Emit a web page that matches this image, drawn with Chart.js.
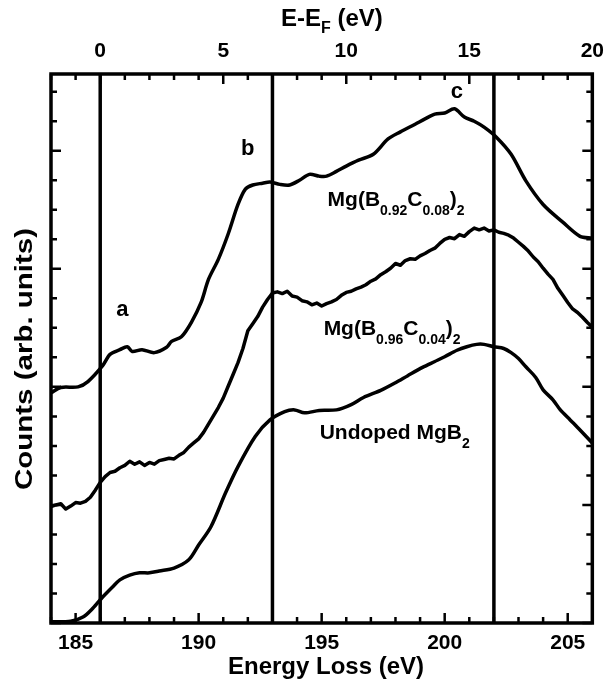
<!DOCTYPE html>
<html lang="en">
<head>
<meta charset="UTF-8">
<title>MgB2 EELS</title>
<style>
  html, body { margin: 0; padding: 0; background: #fff; }
  #wrap { width: 614px; height: 688px; }
</style>
</head>
<body>
<div id="wrap"><canvas id="eels"></canvas></div>

<script src="https://cdn.jsdelivr.net/npm/chart.js"></script>

<script>
// Mg(B0.92C0.08)2 spectrum
const energyC08 = [184.0,184.4,185.1,185.5,186.1,186.4,186.8,187.1,187.3,187.7,188.2,188.7,188.9,189.3,189.7,
  190.1,190.4,190.8,191.2,191.6,191.9,192.2,192.6,192.9,193.3,193.7,194.1,194.5,194.9,195.2,195.6,196.0,196.5,
  197.1,197.7,198.2,198.8,199.2,199.6,200.0,200.4,200.8,201.2,201.6,202.1,202.7,203.3,204.0,204.8,205.5,206.0];
const countsC08 = [3.90,3.99,4.00,4.09,4.36,4.55,4.63,4.68,4.60,4.63,4.58,4.67,4.77,4.85,5.09,
  5.43,5.82,6.16,6.59,7.09,7.35,7.42,7.45,7.47,7.43,7.42,7.50,7.60,7.57,7.57,7.65,7.74,7.84,
  7.94,8.20,8.32,8.45,8.54,8.62,8.64,8.71,8.57,8.50,8.40,8.23,7.94,7.49,7.09,6.79,6.55,6.52];

// Mg(B0.96C0.04)2 spectrum (noisy one)
const energyC04 = [184.0,184.2,184.4,184.6,184.8,185.0,185.2,185.4,185.6,185.8,186.0,186.2,186.4,186.6,186.8,
  187.0,187.2,187.4,187.6,187.8,188.0,188.2,188.4,188.6,188.8,189.0,189.2,189.4,189.6,189.8,190.0,190.2,190.4,
  190.6,190.8,191.0,191.2,191.4,191.6,191.8,192.0,192.2,192.4,192.6,192.8,193.0,193.2,193.4,193.6,193.8,194.0,
  194.2,194.4,194.6,194.8,195.0,195.2,195.4,195.6,195.8,196.0,196.2,196.4,196.6,196.8,197.0,197.2,197.4,197.6,
  197.8,198.0,198.2,198.4,198.6,198.8,199.0,199.2,199.4,199.6,199.8,200.0,200.2,200.4,200.6,200.8,201.0,201.2,
  201.4,201.6,201.8,202.0,202.2,202.4,202.6,202.8,203.0,203.2,203.4,203.6,203.8,204.0,204.2,204.4,204.6,204.8,
  205.0,205.2,205.4,205.6,205.8,206.0];
const countsC04 = [1.97,2.00,2.02,1.93,1.98,2.04,2.03,2.06,2.13,2.25,2.38,2.48,2.55,2.57,2.63,
  2.67,2.74,2.69,2.73,2.67,2.72,2.69,2.75,2.77,2.79,2.78,2.84,2.89,2.98,3.05,3.12,3.23,3.37,
  3.51,3.65,3.81,4.01,4.21,4.41,4.65,4.95,5.07,5.19,5.35,5.48,5.59,5.61,5.58,5.62,5.54,5.52,
  5.46,5.44,5.39,5.42,5.37,5.41,5.44,5.48,5.55,5.60,5.62,5.66,5.69,5.73,5.79,5.83,5.90,5.95,
  6.01,6.09,6.06,6.14,6.17,6.16,6.22,6.26,6.31,6.35,6.43,6.50,6.53,6.51,6.58,6.55,6.63,6.69,
  6.66,6.69,6.64,6.66,6.62,6.60,6.57,6.52,6.45,6.38,6.30,6.20,6.12,6.01,5.91,5.82,5.67,5.55,
  5.43,5.32,5.26,5.18,5.09,5.01];

// undoped MgB2 spectrum
const energyUndoped = [184.0,184.8,185.3,185.7,186.1,186.5,186.8,187.2,187.6,188.0,188.4,189.0,189.6,190.0,190.5,
  191.1,191.6,192.3,192.9,193.5,193.9,194.3,194.9,195.6,196.2,196.7,197.4,198.0,198.5,199.1,199.6,200.0,200.5,
  200.9,201.3,201.6,202.0,202.4,202.7,203.0,203.3,203.7,204.0,204.4,204.7,205.1,205.5,206.0];
const countsUndoped = [0.02,0.03,0.10,0.25,0.44,0.61,0.73,0.81,0.85,0.85,0.88,0.93,1.07,1.32,1.63,
  2.21,2.65,3.16,3.44,3.58,3.61,3.56,3.60,3.61,3.70,3.82,3.94,4.07,4.19,4.33,4.43,4.51,4.62,
  4.68,4.72,4.72,4.68,4.65,4.58,4.48,4.34,4.16,3.95,3.78,3.61,3.44,3.27,3.05];

const edgeLines = [186, 193, 202];     // vertical markers (eV)
const fermiEnergy = 186;               // E_F on the loss scale
const lossTicks = [185, 190, 195, 200, 205];
const fermiTicks = [0, 5, 10, 15, 20];
const countsMax = 9.3;

const FONT = '"Liberation Sans", Arial, Helvetica, sans-serif';

const toPts = (xs, ys) => xs.map((x, i) => ({ x: x, y: ys[i] }));

const spectrum = (xs, ys, tension) => ({
  data: toPts(xs, ys),
  borderColor: '#000',
  borderWidth: 3.5,
  pointRadius: 0,
  tension: tension,
  borderJoinStyle: 'round',
  borderCapStyle: 'round',
  fill: false
});

const datasets = [
  spectrum(energyC08, countsC08, 0.3),
  spectrum(energyC04, countsC04, 0),
  spectrum(energyUndoped, countsUndoped, 0.3)
];
edgeLines.forEach(e => {
  datasets.push({
    data: [{ x: e, y: 0 }, { x: e, y: countsMax }],
    borderColor: '#000', borderWidth: 3.5, pointRadius: 0, fill: false
  });
});

// rich text with subscripts
function rich(ctx, parts, x, y, size, subSize, drop) {
  parts.forEach(p => {
    const sub = p[1] === 1;
    ctx.font = 'bold ' + (sub ? subSize : size) + 'px ' + FONT;
    ctx.fillText(p[0], x, y + (sub ? drop : 0));
    x += ctx.measureText(p[0]).width;
  });
}

const framePlugin = {
  id: 'frame',
  afterDraw(chart) {
    const ctx = chart.ctx;
    const a = chart.chartArea;
    const xs = chart.scales.x, ys = chart.scales.y;
    ctx.save();
    ctx.strokeStyle = '#000';
    ctx.fillStyle = '#000';
    ctx.lineWidth = 3.5;
    ctx.strokeRect(a.left, a.top, a.right - a.left, a.bottom - a.top);

    // inward ticks
    ctx.lineWidth = 2.5;
    ctx.beginPath();
    for (let e = 184; e <= 206; e++) {
      const px = xs.getPixelForValue(e);
      const lb = (e % 5 === 0) ? 10 : 6;
      const lt = ((e - fermiEnergy) % 5 === 0) ? 10 : 6;
      ctx.moveTo(px, a.bottom); ctx.lineTo(px, a.bottom - lb);
      ctx.moveTo(px, a.top); ctx.lineTo(px, a.top + lt);
    }
    for (let v = 0; v <= 9; v += 0.5) {
      const py = ys.getPixelForValue(v);
      const l = (v % 2 === 0) ? 10 : 6;
      ctx.moveTo(a.left, py); ctx.lineTo(a.left + l, py);
      ctx.moveTo(a.right, py); ctx.lineTo(a.right - l, py);
    }
    ctx.stroke();

    // axis titles
    ctx.textBaseline = 'alphabetic';
    ctx.textAlign = 'left';
    rich(ctx, [['E-E', 0], ['F', 1], [' (eV)', 0]], 281, 26, 24, 16, 7);
    ctx.font = 'bold 24px ' + FONT;
    ctx.textAlign = 'center';
    ctx.fillText('Energy Loss (eV)', 326, 674);
    ctx.save();
    ctx.translate(32, 359);
    ctx.rotate(-Math.PI / 2);
    ctx.font = 'bold 24px ' + FONT;
    const yt = 'Counts (arb. units)';
    const stretch = 262 / ctx.measureText(yt).width;
    ctx.scale(stretch, 1);
    ctx.fillText(yt, 0, 0);
    ctx.restore();

    // peak letters
    ctx.textBaseline = 'middle';
    ctx.font = 'bold 22px ' + FONT;
    [['a', 186.9, 5.31], ['b', 192.0, 8.03], ['c', 200.5, 9.0]].forEach(l => {
      ctx.fillText(l[0], xs.getPixelForValue(l[1]), ys.getPixelForValue(l[2]));
    });

    // spectrum labels
    ctx.textAlign = 'left';
    ctx.textBaseline = 'alphabetic';
    rich(ctx, [['Mg(B', 0], ['0.92', 1], ['C', 0], ['0.08', 1], [')', 0], ['2', 1]],
      xs.getPixelForValue(195.24), ys.getPixelForValue(7.07), 21, 14, 9);
    rich(ctx, [['Mg(B', 0], ['0.96', 1], ['C', 0], ['0.04', 1], [')', 0], ['2', 1]],
      xs.getPixelForValue(195.08), ys.getPixelForValue(4.88), 21, 14, 9);
    rich(ctx, [['Undoped MgB', 0], ['2', 1]],
      xs.getPixelForValue(194.92), ys.getPixelForValue(3.12), 21, 14, 9);
    ctx.restore();
  }
};

const tickFont = { family: FONT, size: 21, weight: 'bold' };

new Chart(document.getElementById('eels'), {
  type: 'line',
  data: { datasets: datasets },
  options: {
    responsive: true,
    maintainAspectRatio: false,
    animation: false,
    layout: { padding: { left: 0, right: 14, top: 0, bottom: 0 } },
    plugins: { legend: { display: false }, tooltip: { enabled: false } },
    scales: {
      x: {
        type: 'linear', position: 'bottom', min: 184, max: 206,
        grid: { display: false, drawTicks: false },
        border: { display: false },
        ticks: { color: '#000', font: tickFont, padding: 8, maxRotation: 0 },
        afterBuildTicks: s => { s.ticks = lossTicks.map(v => ({ value: v })); },
        afterFit: s => { s.height = 65; }
      },
      x2: {
        type: 'linear', position: 'top', min: 184 - fermiEnergy, max: 206 - fermiEnergy,
        grid: { display: false, drawTicks: false },
        border: { display: false },
        ticks: { color: '#000', font: tickFont, padding: 10, maxRotation: 0 },
        afterBuildTicks: s => { s.ticks = fermiTicks.map(v => ({ value: v })); },
        afterFit: s => { s.height = 74; }
      },
      y: {
        type: 'linear', min: 0, max: countsMax,
        grid: { display: false, drawTicks: false },
        border: { display: false },
        ticks: { display: false },
        afterFit: s => { s.width = 51; }
      }
    }
  },
  plugins: [framePlugin]
});
</script>
</body>
</html>
